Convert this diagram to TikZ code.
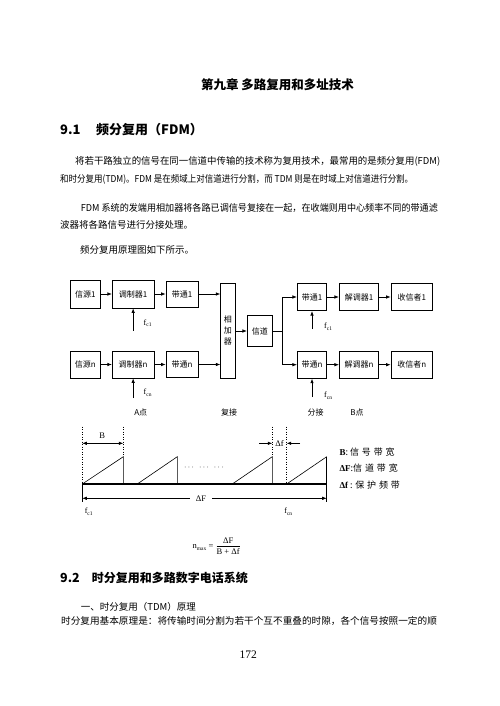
\documentclass[tikz,border=0pt]{standalone}
\usepackage{graphicx}
\usepackage{fontspec}
\setmainfont{Noto Sans CJK SC}
\newfontfamily\cjkwide{Noto Sans CJK SC}[LetterSpace=32]
\newfontfamily\tnr{Liberation Serif}
\usetikzlibrary{arrows.meta}
\newcommand{\fitline}[2]{\resizebox{#1}{\height}{#2}}
\newcommand{\fsub}[1]{{\tnr f\raisebox{-1.6pt}{\fontsize{5.5}{5.5}\selectfont #1}}}
\tikzset{
  box/.style={draw, line width=0.7pt, inner sep=0pt, font=\fontsize{8}{8}\selectfont},
  arr/.style={-{Latex[length=4.5pt,width=3.5pt]}, line width=0.7pt},
  txt/.style={anchor=west, inner sep=0pt},
  body/.style={anchor=west, inner sep=0pt, font=\fontsize{9.5}{9.5}\selectfont},
  small/.style={inner sep=0pt, font=\fontsize{8}{8}\selectfont},
  lbl/.style={anchor=west, inner sep=0pt, font=\fontsize{8}{8}\selectfont},
  spec/.style={line width=0.6pt},
  dots/.style={line width=0.5pt, dotted}
}
\begin{document}
\begin{tikzpicture}[x=1pt,y=-1pt]
\useasboundingbox (0,0) rectangle (500,706);
\fill[white] (0,0) rectangle (500,706);

% ---------- headings and text ----------
\node[inner sep=0pt, font=\bfseries\fontsize{12.5}{12.5}\selectfont] (title) at (277.5,85) {第九章\ 多路复用和多址技术};
\node[txt, font=\bfseries\fontsize{13}{13}\selectfont] (h91n) at (60,130) {9.1};
\node[txt, font=\bfseries\fontsize{13}{13}\selectfont] (h91) at (96,130) {频分复用（FDM）};
\node[body] (l1) at (75,161.7) {\fitline{365pt}{将若干路独立的信号在同一信道中传输的技术称为复用技术，最常用的是频分复用(FDM)}};
\node[body] (l2) at (60,179.3) {\fitline{353pt}{和时分复用(TDM)。FDM 是在频域上对信道进行分割，而 TDM 则是在时域上对信道进行分割。}};
\node[body] (l3) at (80.7,208.3) {\fitline{357pt}{FDM 系统的发端用相加器将各路已调信号复接在一起，在收端则用中心频率不同的带通滤}};
\node[body] (l4) at (60,225) {波器将各路信号进行分接处理。};
\node[body] (l5) at (80,250) {频分复用原理图如下所示。};

% ---------- block diagram ----------
\node[box, minimum width=30.7pt, minimum height=28pt] (src1) at (85.35,294) {信源1};
\node[box, minimum width=41.7pt, minimum height=28pt] (mod1) at (133.15,294) {调制器1};
\node[box, minimum width=32.3pt, minimum height=26pt] (bp1) at (182.15,294) {带通1};
\node[box, minimum width=30.7pt, minimum height=27pt] (srcn) at (85.35,364.5) {信源n};
\node[box, minimum width=41.7pt, minimum height=27pt] (modn) at (133.15,364.5) {调制器n};
\node[box, minimum width=32.3pt, minimum height=26pt] (bpn) at (182.15,364.5) {带通n};
\node[box, minimum width=14.3pt, minimum height=95pt, align=center, font=\fontsize{8}{11}\selectfont] (add) at (227.85,330.8) {相\\加\\器};
\node[box, minimum width=25pt, minimum height=30.7pt] (chan) at (259.8,331) {信道};
\node[box, minimum width=29.4pt, minimum height=27.4pt] (rbp1) at (312,297) {带通1};
\node[box, minimum width=39.4pt, minimum height=27.4pt] (rdem1) at (359,297) {解调器1};
\node[box, minimum width=41.7pt, minimum height=27.4pt] (rrcv1) at (411.85,297) {收信者1};
\node[box, minimum width=29.4pt, minimum height=27.3pt] (rbpn) at (312,364.7) {带通n};
\node[box, minimum width=39.4pt, minimum height=27.3pt] (rdemn) at (359,364.7) {解调器n};
\node[box, minimum width=41.7pt, minimum height=27.3pt] (rrcvn) at (411.85,364.7) {收信者n};

\draw[arr] (src1) -- (mod1);
\draw[arr] (mod1) -- (bp1);
\draw[arr] (bp1.east) -- (bp1.east -| add.west);
\draw[arr] (srcn) -- (modn);
\draw[arr] (modn) -- (bpn);
\draw[arr] (bpn.east) -- (bpn.east -| add.west);
\draw[arr] (add.east |- chan.west) -- (chan.west);
\coordinate (br) at (282.7,331);
\draw[arr] (chan.east) -- (br) |- (rbp1.west);
\draw[arr] (br) |- (rbpn.west);
\draw[arr] (rbp1) -- (rdem1);
\draw[arr] (rdem1) -- (rrcv1);
\draw[arr] (rbpn) -- (rdemn);
\draw[arr] (rdemn) -- (rrcvn);

\coordinate (fm1) at (133.15,330.7);
\coordinate (fmn) at (133.15,398);
\coordinate (fr1) at (312,329);
\coordinate (frn) at (312,397);
\draw[arr] (fm1) -- (mod1.south);
\draw[arr] (fmn) -- (modn.south);
\draw[arr] (fr1) -- (rbp1.south);
\draw[arr] (frn) -- (rbpn.south);
\node[lbl] (lfm1) at (143.5,323.3) {\fsub{c1}};
\node[lbl] (lfmn) at (143.5,393) {\fsub{cn}};
\node[lbl] (lfr1) at (324,327) {\fsub{c1}};
\node[lbl] (lfrn) at (324,396) {\fsub{cn}};

\node[small] (ptA) at (140.7,412) {A点};
\node[small] (fj) at (229,412) {复接};
\node[small] (fenj) at (315.7,412) {分接};
\node[small] (ptB) at (357,412) {B点};

% ---------- spectrum ----------
\coordinate (s0) at (82.3,484);
\coordinate (s1) at (326.7,484);
\draw[line width=1.3pt] (s0) -- (s1);
\draw[spec] (82.3,484) -- (82.3,502);
\draw[spec] (326.7,456.7) -- (326.7,502);
\draw[dots] (82.3,426.7) -- (82.3,484);
\draw[dots] (123.3,426.7) -- (123.3,456.7);
\draw[dots] (272.3,426.7) -- (272.3,456.7);
\draw[dots] (286.7,426.7) -- (286.7,484);
\draw[spec] (82.3,484) -- (123.3,456.7) -- (123.3,484);
\draw[spec] (137.3,484) -- (177.3,456.7) -- (177.3,484);
\draw[spec] (232.3,484) -- (272.3,456.7) -- (272.3,484);
\draw[spec] (286.7,484) -- (326.7,456.7);
\node[small] (dd) at (204,467.7) {$\cdots\ \ \cdots\ \ \cdots$};

\coordinate (bl) at (82.3,443.3);
\coordinate (brr) at (123.3,443.3);
\draw[{Latex[length=4.5pt,width=3.5pt]}-{Latex[length=4.5pt,width=3.5pt]}, line width=0.6pt] (bl) -- (brr);
\node[small, font=\tnr\fontsize{8.5}{8.5}\selectfont] (lB) at (102.3,436) {B};

\coordinate (dfa) at (259,443.3);
\coordinate (dfb) at (272.3,443.3);
\coordinate (dfc) at (300,443.3);
\coordinate (dfd) at (286.7,443.3);
\draw[arr, line width=0.6pt] (dfa) -- (dfb);
\draw[arr, line width=0.6pt] (dfc) -- (dfd);
\node[small, font=\tnr\fontsize{8.5}{8.5}\selectfont] (ldf) at (279.5,443.3) {Δf};

\coordinate (Fl) at (82.3,498.3);
\coordinate (Fr) at (326.7,498.3);
\draw[{Latex[length=4.5pt,width=3.5pt]}-{Latex[length=4.5pt,width=3.5pt]}, line width=0.6pt] (Fl) -- (Fr);
\node[small, fill=white, inner xsep=6pt, font=\tnr\fontsize{8.5}{8.5}\selectfont] (lF) at (201,498.3) {ΔF};

\node[small] (lfc1) at (88.7,511.7) {\fsub{c1}};
\node[small] (lfcn) at (288.3,511.7) {\fsub{cn}};

\node[lbl, font=\fontsize{9}{9}\selectfont] (lg1) at (339.3,452.3) {{\tnr\bfseries B}: {\cjkwide 信号带宽}};
\node[lbl, font=\fontsize{9}{9}\selectfont] (lg2) at (339.3,467.7) {{\tnr\bfseries ΔF}:{\cjkwide 信道带宽}};
\node[lbl, font=\fontsize{9}{9}\selectfont] (lg3) at (339.3,485.3) {{\tnr\bfseries Δf} : {\cjkwide 保护频带}};

\node[inner sep=0pt, font=\tnr\fontsize{8.5}{8.5}\selectfont] (frm) at (216.8,546) {n\raisebox{-1.5pt}{\fontsize{5.5}{5.5}\selectfont max} = $\displaystyle\frac{\hbox{\tnr ΔF}}{\hbox{\tnr B + Δf}}$};

% ---------- section 9.2 ----------
\node[txt, font=\bfseries\fontsize{12.5}{12.5}\selectfont] (h92n) at (60,578.3) {9.2};
\node[txt, font=\bfseries\fontsize{12}{12}\selectfont] (h92) at (91.7,578.3) {时分复用和多路数字电话系统};
\node[body] (s1l) at (80.7,606.7) {一、时分复用（TDM）原理};
\node[body] (s2l) at (61,621) {\fitline{375.7pt}{时分复用基本原理是：将传输时间分割为若干个互不重叠的时隙，各个信号按照一定的顺}};
\node[inner sep=0pt, font=\tnr\fontsize{11.5}{11.5}\selectfont] (pg) at (248.3,655) {172};
\end{tikzpicture}
\end{document}
